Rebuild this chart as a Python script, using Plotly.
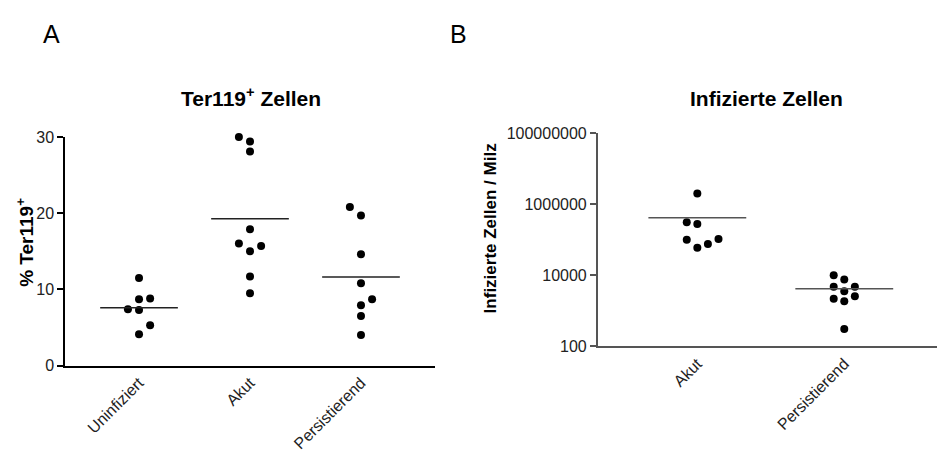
import numpy as np
import plotly.graph_objects as go

# ---- Data ----
groups_a = ["Uninfiziert", "Akut", "Persistierend"]
uninfiziert = [11.5, 8.7, 8.8, 7.4, 7.3, 5.3, 4.1]
akut_a = [30.0, 29.4, 28.1, 17.9, 16.0, 15.7, 15.0, 11.7, 9.5]
persist_a = [20.8, 19.7, 14.6, 10.8, 8.7, 7.9, 6.5, 4.0]

groups_b = ["Akut", "Persistierend"]
akut_b = [2.0e6, 3.1e5, 2.8e5, 1.0e5, 1.05e5, 7.6e4, 6.0e4]
persist_b = [1.0e4, 7.6e3, 4.8e3, 4.8e3, 3.6e3, 2.2e3, 2.6e3, 1.86e3, 310]

yticks_b = [100, 10000, 1000000, 100000000]
yticklabels_b = ["100", "10000", "1000000", "100000000"]

# column-scatter slots (layout of dots inside each column)
slots_a = [[0, 0, 1, -1, 0, 1, 0],
           [-1, 0, 0, 0, -1, 1, 0, 0, 0],
           [-1, 0, 0, 0, 1, 0, 0, 0]]
slots_b = [[0, -1, 0, -1, 2, 1, 0],
           [-1, 0, -1, 1, 0, -1, 1, 0, 0]]

FONT = "Liberation Sans, Arial, sans-serif"
fig = go.Figure()

def add_column(values, slots, pos, slot_w, half, xa, ya, line_color):
    xs = [pos + s * slot_w for s in slots]
    fig.add_trace(go.Scatter(x=xs, y=values, mode="markers", xaxis=xa, yaxis=ya,
                             marker=dict(size=8, color="black"), cliponaxis=False,
                             showlegend=False, hoverinfo="y"))
    m = float(np.mean(values))
    fig.add_trace(go.Scatter(x=[pos - half, pos + half], y=[m, m], mode="lines",
                             xaxis=xa, yaxis=ya, line=dict(color=line_color, width=1.5),
                             showlegend=False, hoverinfo="skip"))

for i, vals in enumerate([uninfiziert, akut_a, persist_a]):
    add_column(vals, slots_a[i], i, 0.1, 0.35, "x", "y", "#222222")
for i, vals in enumerate([akut_b, persist_b]):
    add_column(vals, slots_b[i], i, 0.072, 0.333, "x2", "y2", "#555555")

axis_common = dict(showgrid=False, zeroline=False, showline=True,
                   tickfont=dict(family=FONT, size=16, color="#222"))

fig.update_layout(
    width=937, height=452, margin=dict(l=0, r=0, t=0, b=0),
    paper_bgcolor="white", plot_bgcolor="white",
    font=dict(family=FONT, color="black"),
    xaxis=dict(domain=[65/937, 435/937], range=[-0.667, 2.667],
               tickvals=[0, 1, 2], ticktext=groups_a, tickangle=-45, ticks="",
               linecolor="black", linewidth=1.5, **axis_common),
    yaxis=dict(domain=[(452-371.5)/452, (452-134)/452], range=[0, 30],
               tickvals=[0, 10, 20, 30], ticks="outside", ticklen=6, tickwidth=1.5,
               tickcolor="black", linecolor="black", linewidth=1.5, **axis_common),
    xaxis2=dict(domain=[597.7/937, 1.0], range=[-0.678, 1.631], anchor="y2",
                tickvals=[0, 1], ticktext=groups_b, tickangle=-45, ticks="",
                linecolor="#555555", linewidth=1.5, **axis_common),
    yaxis2=dict(domain=[(452-351.7)/452, (452-130)/452], type="log", range=[2, 8],
                anchor="x2", tickvals=yticks_b, ticktext=yticklabels_b,
                ticks="outside", ticklen=6, tickwidth=1.5, tickcolor="#555555",
                linecolor="#555555", linewidth=1.5, **axis_common),
)

ann = [
    dict(text="A", x=51/937, y=1-27/452, font=dict(size=25)),
    dict(text="B", x=458/937, y=1-27/452, font=dict(size=25)),
    dict(text="<b>Ter119<sup>+</sup> Zellen</b>", x=251/937, y=1-92/452, font=dict(size=21)),
    dict(text="<b>Infizierte Zellen</b>", x=766/937, y=1-94/452, font=dict(size=21)),
    dict(text="<b>% Ter119<sup>+</sup></b>", x=25/937, y=1-244/452, textangle=-90, font=dict(size=19)),
    dict(text="<b>Infizierte Zellen / Milz</b>", x=490/937, y=1-229/452, textangle=-90, font=dict(size=17)),
]
for a in ann:
    a.update(xref="paper", yref="paper", showarrow=False, xanchor="center", yanchor="middle")
    a["font"].update(family=FONT, color="black")
fig.update_layout(annotations=ann)

fig.write_html("out.html")
